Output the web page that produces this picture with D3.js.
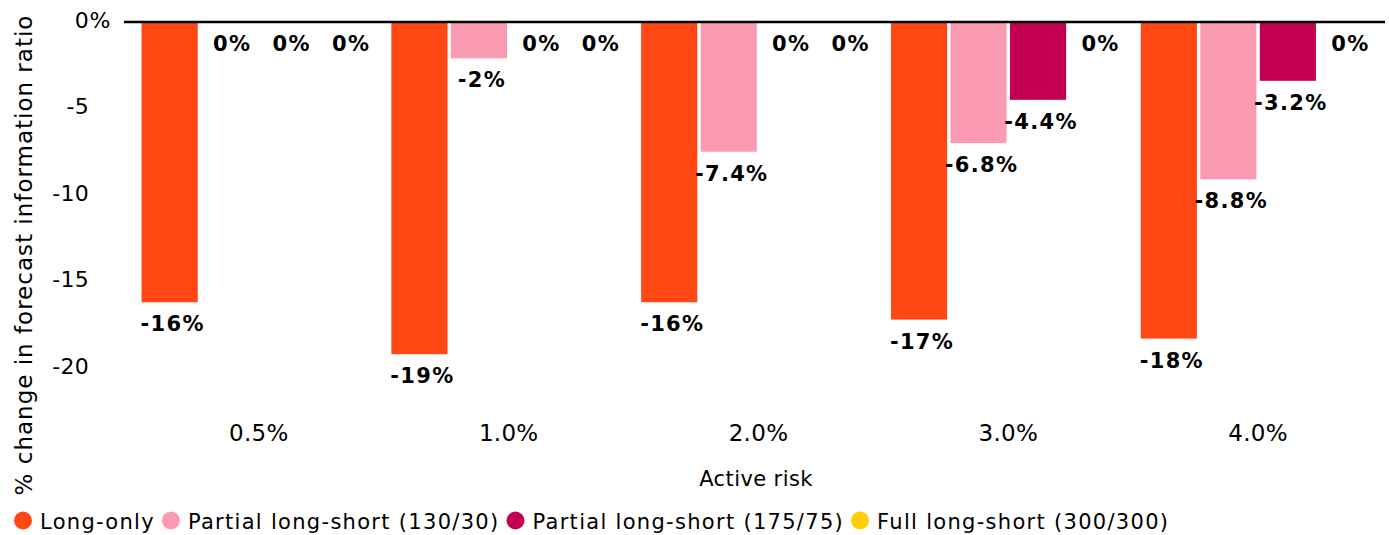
<!DOCTYPE html>
<html><head><meta charset="utf-8">
<script src="https://cdn.jsdelivr.net/npm/d3@7"></script>
<style>
body{margin:0;background:#fff;}
text{font-family:"DejaVu Sans",sans-serif;}
</style></head>
<body><svg id="chart" width="1389" height="535"></svg>
<script>
const categories = ["0.5%", "1.0%", "2.0%", "3.0%", "4.0%"];
const seriesNames = ["Long-only", "Partial long-short (130/30)", "Partial long-short (175/75)", "Full long-short (300/300)"];
const longOnly = [-16.2, -19.2, -16.2, -17.2, -18.3];
const partial130 = [0, -2.1, -7.5, -7.0, -9.1];
const partial175 = [0, 0, 0, -4.5, -3.4];
const full300 = [0, 0, 0, 0, 0];
const longOnlyLabels = ["-16%", "-19%", "-16%", "-17%", "-18%"];
const partial130Labels = ["0%", "-2%", "-7.4%", "-6.8%", "-8.8%"];
const partial175Labels = ["0%", "0%", "0%", "-4.4%", "-3.2%"];
const full300Labels = ["0%", "0%", "0%", "0%", "0%"];
const yTicks = [0, -5, -10, -15, -20];
const colors = ["#FF4713", "#FA9BB3", "#C40052", "#FFCE00"];

const seriesValues = [longOnly, partial130, partial175, full300];
const seriesLabels = [longOnlyLabels, partial130Labels, partial175Labels, full300Labels];

const svg = d3.select("#chart");
const y = d3.scaleLinear().domain([0, -20]).range([22, 368]);
const x0 = d3.scaleBand().domain(categories).range([134, 1383]).padding(0);
const x1 = d3.scaleBand().domain(d3.range(4)).range([0, x0.bandwidth()]).paddingInner(0.056).paddingOuter(0.127);

// y tick labels: numbers right-aligned, "%" hanging after the first
const ticks = svg.append("g");
ticks.selectAll("text.num").data(yTicks).join("text").attr("class", "num")
  .attr("x", 89).attr("y", d => y(d)).attr("dy", "0.27em")
  .attr("text-anchor", "end").attr("font-size", 22).attr("letter-spacing", 0.3).attr("fill", "#000")
  .text(d => d);
ticks.append("text").attr("x", 89.5).attr("y", y(yTicks[0])).attr("dy", "0.27em")
  .attr("font-size", 22).attr("fill", "#000").text("%");

// y title
svg.append("text").attr("transform", "translate(32,255) rotate(-90)")
  .attr("text-anchor", "middle").attr("font-size", 23).attr("letter-spacing", 1).attr("fill", "#000")
  .text("% change in forecast information ratio");

// bars
const groups = svg.append("g").selectAll("g").data(categories).join("g")
  .attr("transform", d => `translate(${x0(d)},0)`);
groups.each(function(cat, ci) {
  const g = d3.select(this);
  seriesValues.forEach((vals, si) => {
    const v = vals[ci];
    g.append("rect").attr("x", x1(si)).attr("width", x1.bandwidth())
      .attr("y", y(0)).attr("height", y(v) - y(0)).attr("fill", colors[si]);
    g.append("text").attr("x", x1(si) + x1.bandwidth() / 2 + 3).attr("y", y(v) + 29)
      .attr("text-anchor", "middle").attr("font-size", 21).attr("font-weight", "bold")
      .attr("letter-spacing", 1.3).attr("fill", "#000").text(seriesLabels[si][ci]);
  });
});

// zero line
svg.append("line").attr("x1", 124).attr("x2", 1385).attr("y1", y(0)).attr("y2", y(0))
  .attr("stroke", "#000").attr("stroke-width", 2.5);

// category labels
svg.append("g").selectAll("text").data(categories).join("text")
  .attr("x", d => x0(d) + x0.bandwidth() / 2).attr("y", 441)
  .attr("text-anchor", "middle").attr("font-size", 23).attr("letter-spacing", 0.3).attr("fill", "#000").text(d => d);

svg.append("text").attr("x", 756).attr("y", 486).attr("text-anchor", "middle")
  .attr("font-size", 21).attr("letter-spacing", 0.4).attr("fill", "#000").text("Active risk");

// legend
const leg = svg.append("g");
let lx = 14;
seriesNames.forEach((name, i) => {
  leg.append("circle").attr("cx", lx + 9).attr("cy", 520.5).attr("r", 9).attr("fill", colors[i]);
  const t = leg.append("text").attr("x", lx + 26).attr("y", 528.5).attr("font-size", 21)
    .attr("letter-spacing", 1.3).attr("fill", "#000").text(name);
  lx += 26 + t.node().getComputedTextLength() + 7;
});
</script></body></html>
